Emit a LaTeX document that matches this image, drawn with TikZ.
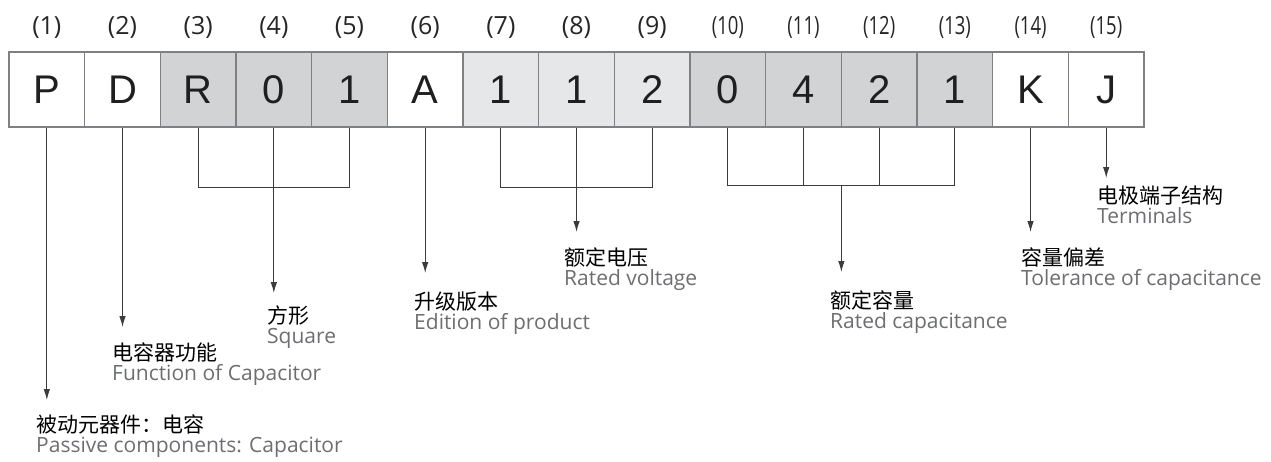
\documentclass[tikz,border=0pt]{standalone}
\usepackage{fontspec}
\setmainfont{Open Sans}
\newfontfamily\cjk{Noto Sans CJK SC}
\newfontfamily\boxfont{Liberation Sans}
\usetikzlibrary{arrows.meta, positioning, calc}

\definecolor{darkcell}{HTML}{D1D3D4}
\definecolor{lightcell}{HTML}{E6E7E8}
\definecolor{edgegrey}{HTML}{7F8083}
\definecolor{engtext}{HTML}{6D6E71}
\definecolor{leader}{HTML}{3C3C3C}

\newcommand{\codelabel}[2]{{\cjk\fontsize{21}{20}\selectfont #1}\\{\color{engtext}#2}}

\begin{document}
\begin{tikzpicture}[
    x=1pt, y=-1pt,
    cell/.style={rectangle, draw=edgegrey, line width=1.2pt, minimum width=75.67pt, minimum height=75pt, inner sep=0pt, font=\boxfont\fontsize{40}{42}\selectfont, text=black!88},
    idx/.style={font=\fontsize{25}{28}\selectfont, text=black!85, inner sep=0pt},
    lbl/.style={anchor=north west, align=left, inner sep=0pt, font=\fontsize{21}{20}\selectfont},
    conn/.style={draw=leader, line width=1pt, -{Latex[length=11pt, width=6.5pt]}},
    bar/.style={draw=leader, line width=1pt}
]
    \useasboundingbox (0,0) rectangle (1271,461);

    % Row of code cells
    \foreach \ch/\fillc [count=\i] in {P/white, D/white, R/darkcell, 0/darkcell, 1/darkcell, A/white, 1/lightcell, 1/lightcell, 2/lightcell, 0/darkcell, 4/darkcell, 2/darkcell, 1/darkcell, K/white, J/white} {
        \node[cell, fill=\fillc] (c\i) at ({9+75.67*(\i-0.5)}, 89.5) {\ch};
        \node[idx] (n\i) at ($(c\i.north)+(0,-24)$) {\ifnum\i>9 \scalebox{0.74}[1]{(\i)}\else (\i)\fi};
    }

    % Descriptions
    \node[lbl] (passive) at (36, 415) {\codelabel{被动元器件：电容}{Passive components: Capacitor}};
    \node[lbl] (function) at (112, 343) {\codelabel{电容器功能}{Function of Capacitor}};
    \node[lbl] (square) at (267, 306) {\codelabel{方形}{Square}};
    \node[lbl] (edition) at (414, 292) {\codelabel{升级版本}{Edition of product}};
    \node[lbl] (voltage) at (564, 248) {\codelabel{额定电压}{Rated voltage}};
    \node[lbl] (capacitance) at (830, 291) {\codelabel{额定容量}{Rated capacitance}};
    \node[lbl] (tolerance) at (1021, 248) {\codelabel{容量偏差}{Tolerance of capacitance}};
    \node[lbl] (terminals) at (1097, 186) {\codelabel{电极端子结构}{Terminals}};

    % Brackets joining grouped cells
    \draw[bar] (c3.south) -- ++(0,60) -| (c5.south);
    \draw[bar] (c7.south) -- ++(0,60) -| (c9.south);
    \draw[bar] (c10.south) -- ++(0,58) -| (c13.south);
    \draw[bar] (c11.south) -- ++(0,58);
    \draw[bar] (c12.south) -- ++(0,58);
    \coordinate (capbar) at ($(c11.south)!0.5!(c12.south)+(0,58)$);

    % Arrows to descriptions
    \draw[conn, shorten >=15pt] (c1.south) -- (c1.south |- passive.north);
    \draw[conn, shorten >=16pt] (c2.south) -- (c2.south |- function.north);
    \draw[conn, shorten >=13pt] (c4.south) -- (c4.south |- square.north);
    \draw[conn, shorten >=19pt] (c6.south) -- (c6.south |- edition.north);
    \draw[conn, shorten >=16pt] (c8.south) -- (c8.south |- voltage.north);
    \draw[conn, shorten >=19pt] (capbar) -- (capbar |- capacitance.north);
    \draw[conn, shorten >=16pt] (c14.south) -- (c14.south |- tolerance.north);
    \draw[conn, shorten >=8pt] (c15.south) -- (c15.south |- terminals.north);
\end{tikzpicture}
\end{document}
